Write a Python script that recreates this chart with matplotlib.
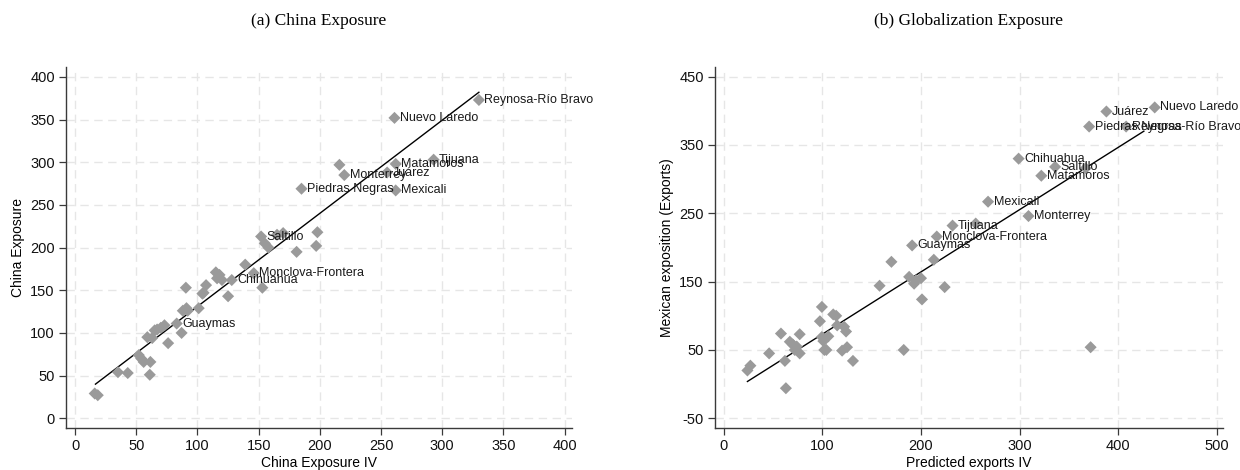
"""
Two-panel scatter: China exposure and globalization exposure vs. their IVs.
"""

import matplotlib
matplotlib.use("Agg")
import matplotlib.pyplot as plt
import numpy as np

plt.rcParams["font.family"] = ["Liberation Sans", "DejaVu Sans"]
plt.rcParams["axes.unicode_minus"] = False

# -- Data --------------------------------------------------------------------
# Panel (a): China Exposure vs China Exposure IV
china_iv = [330, 261, 293, 262, 255, 220, 185, 262, 216,
            152, 155, 158, 170, 165, 181, 198, 197, 139,
            146, 128, 153, 125, 115, 118, 120, 116, 107, 90.5,
            104, 105, 101, 88, 91, 92, 83, 87, 73, 70, 67, 65,
            76, 59, 63, 52, 54, 56, 61.5, 35, 43, 61, 16, 18.5]
china_exp = [373, 352, 303, 298, 288, 285, 269, 267, 297,
             213, 205, 200, 217, 215, 195, 218, 202, 180,
             170, 162, 153, 143, 171, 168, 162, 164, 156, 153,
             146, 147, 129, 126, 129, 126, 111, 100, 109, 106, 104, 103,
             88, 95, 94, 74, 70, 66, 66, 54, 53, 51, 29, 27]
china_lab = ["Reynosa-Río Bravo", "Nuevo Laredo", "Tijuana", "Matamoros",
             "Juárez", "Monterrey", "Piedras Negras", "Mexicali", "",
             "Saltillo", "", "", "", "", "", "", "", "",
             "Monclova-Frontera", "Chihuahua", "", "", "", "", "", "", "", "",
             "", "", "", "", "", "", "Guaymas", "", "", "", "", "",
             "", "", "", "", "", "", "", "", "", "", "", ""]
china_fit_range = [16.6, 330]

# Panel (b): Mexican exposition (Exports) vs Predicted exports IV
exp_iv = [437, 388, 370.5, 408, 299, 336, 367, 322, 268, 309,
          232, 255.5, 216, 191, 170, 213, 158, 188, 195, 200, 193,
          224, 201, 99.5, 111, 114, 97.5, 115, 122, 124, 99.5, 101,
          106, 102, 104, 120, 125, 131, 182.5, 372, 58, 77, 67, 70,
          74, 72, 77, 46, 62, 63, 24, 27]
exp_y = [405, 399, 377, 377, 330, 318, 316, 305, 267, 246,
         232, 235, 216, 203, 179, 182, 144, 157, 152, 155, 147,
         142, 124, 113, 102, 100, 92, 86, 84, 77, 69, 63,
         70, 50, 50, 49, 54, 34, 50, 54, 74, 73, 62, 58,
         55, 50, 45, 45, 34, -6, 20, 27]
exp_lab = ["Nuevo Laredo", "Juárez", "Piedras Negras", "Reynosa-Río Bravo",
           "Chihuahua", "Saltillo", "", "Matamoros", "Mexicali", "Monterrey",
           "Tijuana", "", "Monclova-Frontera", "Guaymas", "", "", "", "", "", "", "",
           "", "", "", "", "", "", "", "", "", "", "",
           "", "", "", "", "", "", "", "", "", "", "", "",
           "", "", "", "", "", "", "", ""]
exp_fit_range = [24, 426]

MARKER_C = "#9a9a9a"
GRID_C = "#e6e6e6"
AXIS_C = "#3a3a3a"

fig = plt.figure(figsize=(12.4, 4.7), dpi=100)
ax1 = fig.add_axes([0.0532, 0.0894, 0.408, 0.7687])
ax2 = fig.add_axes([0.5766, 0.0894, 0.4095, 0.7687])

panels = [
    (ax1, china_iv, china_exp, china_lab, china_fit_range, "(a) China Exposure",
     "China Exposure IV", "China Exposure",
     (-7.5, 406), (-11.4, 412), np.arange(0, 401, 50), np.arange(0, 401, 50)),
    (ax2, exp_iv, exp_y, exp_lab, exp_fit_range, "(b) Globalization Exposure",
     "Predicted exports IV", "Mexican exposition (Exports)",
     (-8.9, 506), (-64.2, 464.6), np.arange(0, 501, 100), np.arange(-50, 451, 100)),
]

for ax, xs, ys, labs, frange, title, xlab, ylab, xl, yl, xt, yt in panels:
    xs = np.array(xs, dtype=float)
    ys = np.array(ys, dtype=float)

    ax.set_xlim(*xl)
    ax.set_ylim(*yl)
    ax.set_xticks(xt)
    ax.set_yticks(yt)
    ax.grid(True, color=GRID_C, linestyle=(0, (6, 4)), linewidth=1.0)
    ax.set_axisbelow(True)

    for side in ("top", "right"):
        ax.spines[side].set_visible(False)
    for side in ("left", "bottom"):
        ax.spines[side].set_color(AXIS_C)
        ax.spines[side].set_linewidth(1.0)
    ax.tick_params(direction="out", length=5, width=0.9, color=AXIS_C,
                   labelsize=10.5, labelcolor="#111111", pad=3)

    # fitted line over the plotted range
    b, a = np.polyfit(xs, ys, 1)
    fx = np.array(frange)
    ax.plot(fx, a + b * fx, color="black", linewidth=1.0, zorder=3)

    ax.scatter(xs, ys, marker="D", s=38, color=MARKER_C, edgecolor="none",
               zorder=4)
    for x, y, t in zip(xs, ys, labs):
        if t:
            ax.annotate(t, (x, y), xytext=(4, 0), textcoords="offset points",
                        ha="left", va="center", fontsize=9, color="#1a1a1a",
                        zorder=5)

    ax.set_xlabel(xlab, fontsize=10, labelpad=2)
    ax.set_ylabel(ylab, fontsize=10, labelpad=4)
    fig.text((ax.get_position().x0 + ax.get_position().x1) / 2, 0.955, title,
             ha="center", va="center", fontsize=12.5, family="Liberation Serif")

fig.savefig("out.png", dpi=100)
